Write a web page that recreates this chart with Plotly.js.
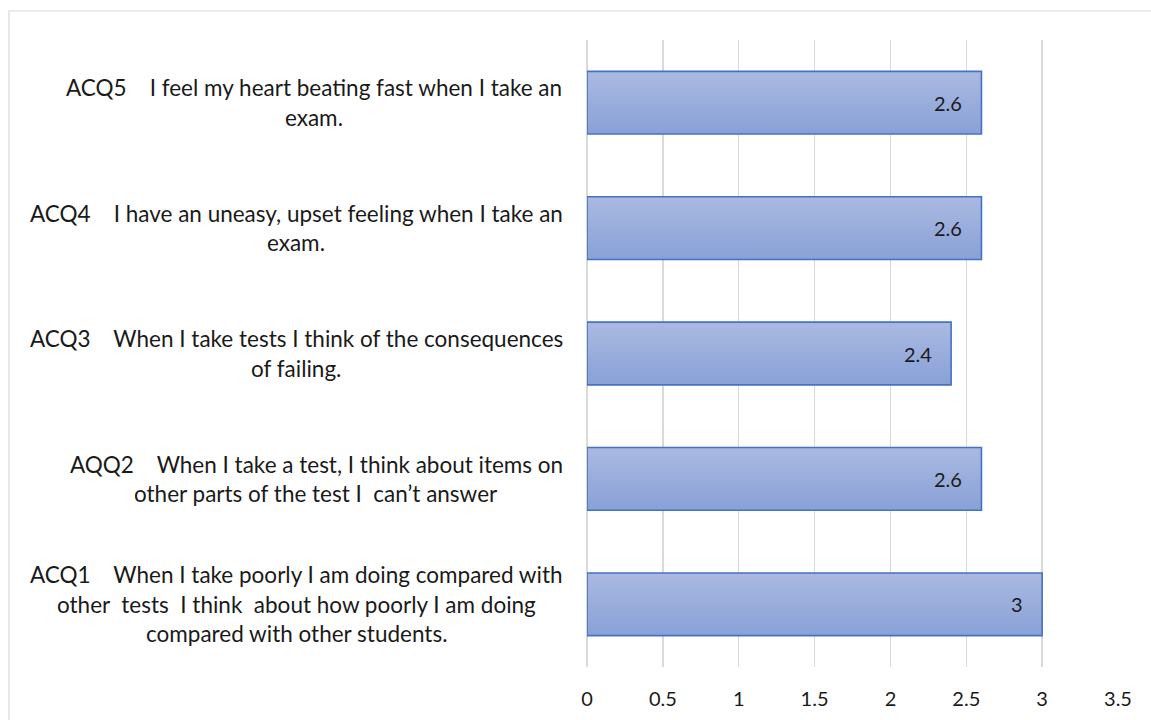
<!DOCTYPE html>
<html>
<head>
<meta charset="utf-8">
<script src="https://cdn.plot.ly/plotly-3.0.1.min.js"></script>
<style>
  html, body { margin: 0; padding: 0; background: #fff; }
  #chart { width: 1151px; height: 720px; }
</style>
</head>
<body>
<div id="chart"></div>
<script>
// ---- data ----
var categories = [
  "ACQ1    When I take poorly I am doing compared with<br>other  tests  I think  about how poorly I am doing<br>compared with other students.",
  "AQQ2    When I take a test, I think about items on<br>other parts of the test I  can\u2019t answer",
  "ACQ3    When I take tests I think of the consequences<br>of failing.",
  "ACQ4    I have an uneasy, upset feeling when I take an<br>exam.",
  "ACQ5    I feel my heart beating fast when I take an<br>exam."
];
var values = [3, 2.6, 2.4, 2.6, 2.6];
var valueLabels = ["3", "2.6", "2.4", "2.6", "2.6"];
var xTickVals = [0, 0.5, 1, 1.5, 2, 2.5, 3, 3.5];
var xTickText = ["0", "0.5", "1", "1.5", "2", "2.5", "3", "3.5"];

// ---- layout constants ----
var W = 1151, H = 720;
var M = {l: 587, r: 33, t: 40, b: 53};
var FONT = "Lato, 'Open Sans', sans-serif";
var FS = 20;       // tick and value labels
var LFS = 22.5;    // category labels
var TEXT = "#1a1a1a";
var LABEL_RIGHT = 563;   // px, right edge of category label blocks
var LINE_H = 29.5;

var pw = W - M.l - M.r, ph = H - M.t - M.b;

function measure(t) {
  var c = document.createElement("canvas").getContext("2d");
  c.font = LFS + "px Lato";
  return c.measureText(t).width;
}

var annotations = [];
categories.forEach(function (cat) {
  var lines = cat.split("<br>");
  var maxW = Math.max.apply(null, lines.map(measure));
  var cx = LABEL_RIGHT - maxW / 2;
  var n = lines.length;
  lines.forEach(function (ln, i) {
    annotations.push({
      xref: "paper", yref: "y",
      x: (cx - M.l) / pw, y: cat,
      xanchor: "center", yanchor: "middle",
      yshift: -(i - (n - 1) / 2) * LINE_H,
      text: ln, showarrow: false,
      font: {family: FONT, size: LFS, color: TEXT}
    });
  });
});
values.forEach(function (v, i) {
  annotations.push({
    xref: "x", yref: "y", x: v, y: categories[i],
    xanchor: "right", yanchor: "middle", xshift: -17,
    text: valueLabels[i], showarrow: false,
    font: {family: FONT, size: FS, color: TEXT}
  });
});

var trace = {
  type: "bar", orientation: "h",
  x: values, y: categories,
  marker: {color: "#99acdb", line: {color: "#4472c4", width: 1.6}},
  hoverinfo: "none"
};

var layout = {
  width: W, height: H,
  margin: M,
  paper_bgcolor: "#fff", plot_bgcolor: "#fff",
  font: {family: FONT, size: FS, color: TEXT},
  showlegend: false,
  bargap: 0.5,
  xaxis: {
    range: [0, 3.5], tickvals: xTickVals, ticktext: xTickText,
    showgrid: true, gridcolor: "#d9d9d9", gridwidth: 1.5,
    zeroline: true, zerolinecolor: "#d9d9d9", zerolinewidth: 1.5,
    showline: false, ticks: "", ticklabelstandoff: 18,
    tickfont: {family: FONT, size: FS, color: TEXT}, fixedrange: true
  },
  yaxis: {
    type: "category", categoryorder: "array", categoryarray: categories,
    showticklabels: false, showgrid: false, zeroline: false, showline: false,
    ticks: "", fixedrange: true
  },
  annotations: annotations,
  shapes: [{
    type: "rect", xref: "paper", yref: "paper",
    x0: (9 - M.l) / pw, x1: (W + 5 - M.l) / pw,
    y0: (H - M.b - (H + 5)) / ph, y1: (H - M.b - 11) / ph,
    line: {color: "#d9d9d9", width: 1.2}, fillcolor: "rgba(0,0,0,0)", layer: "below"
  }]
};

Plotly.newPlot("chart", [trace], layout, {displayModeBar: false, staticPlot: true}).then(function (gd) {
  var svg = gd.querySelector("svg.main-svg");
  var ns = "http://www.w3.org/2000/svg";
  var defs = svg.querySelector("defs") || svg.insertBefore(document.createElementNS(ns, "defs"), svg.firstChild);
  var g = document.createElementNS(ns, "linearGradient");
  g.setAttribute("id", "barGrad");
  g.setAttribute("x1", "0"); g.setAttribute("y1", "0");
  g.setAttribute("x2", "0"); g.setAttribute("y2", "1");
  [["0", "#aab9e1"], ["1", "#89a1d7"]].forEach(function (s) {
    var st = document.createElementNS(ns, "stop");
    st.setAttribute("offset", s[0]);
    st.setAttribute("stop-color", s[1]);
    g.appendChild(st);
  });
  defs.appendChild(g);
  gd.querySelectorAll(".bars .point path").forEach(function (p) {
    p.style.fill = "url(#barGrad)";
  });
});
</script>
</body>
</html>
